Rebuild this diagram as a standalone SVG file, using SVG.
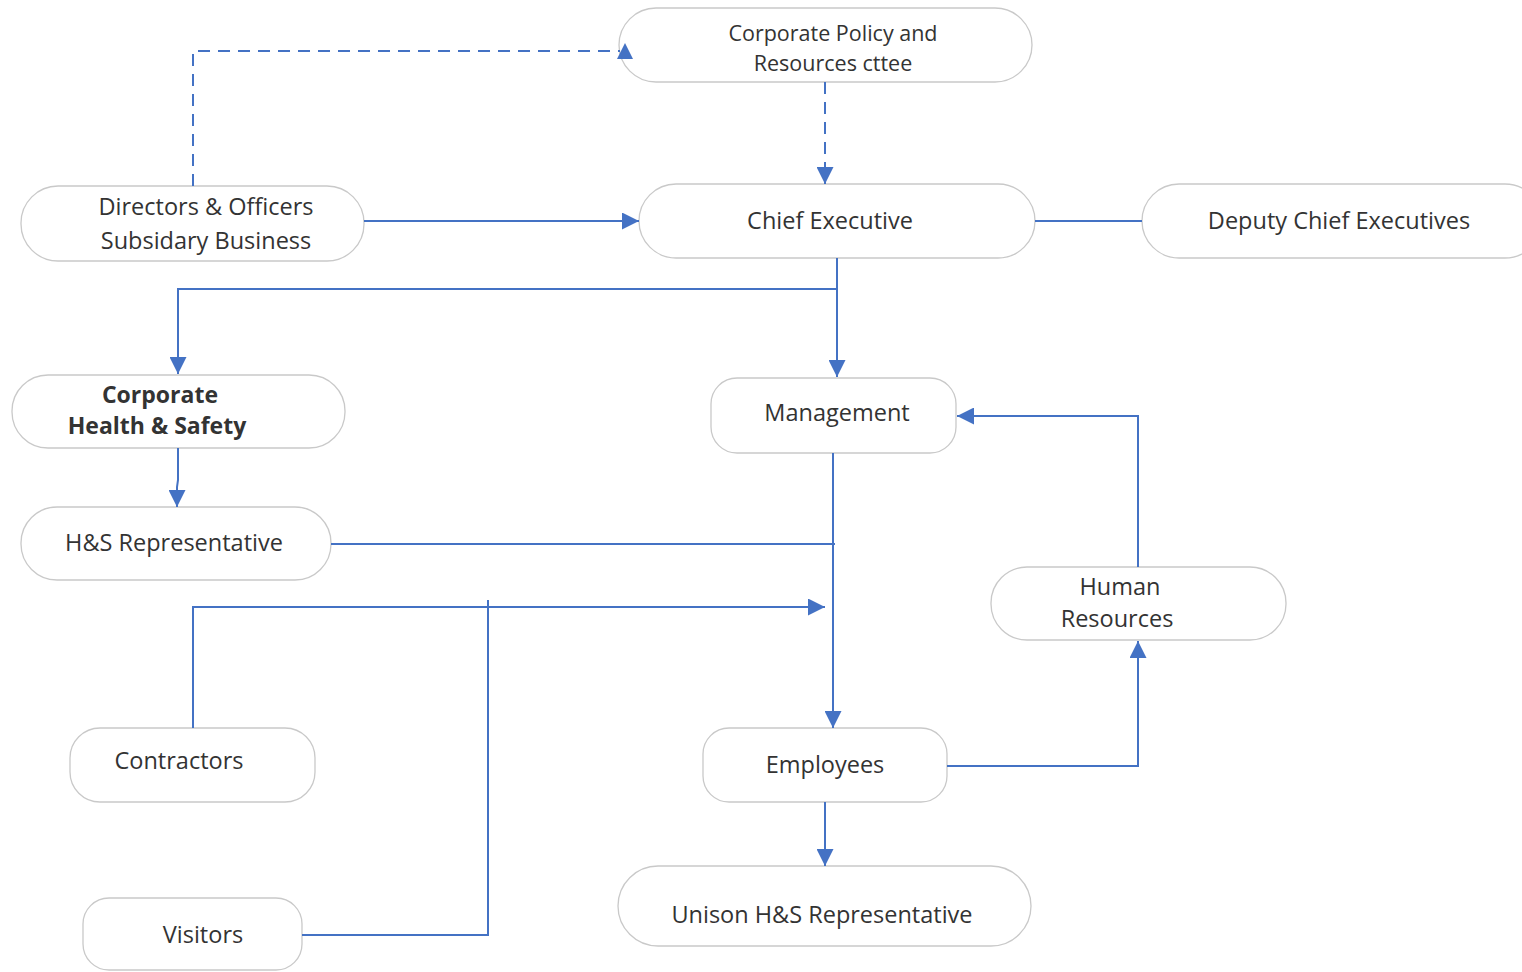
<svg xmlns="http://www.w3.org/2000/svg" width="1522" height="972" viewBox="0 0 1522 972">
<style>
.n{fill:#fff;stroke:#c9c9c9;stroke-width:1.3}
.t{font-family:"Open Sans","Noto Sans","DejaVu Sans",sans-serif;font-size:23.5px;fill:#333;text-anchor:middle}
.s{font-size:21.5px}
.b{font-weight:bold;font-size:23px}
.c{fill:none;stroke:#4472C4;stroke-width:2}
.d{stroke-dasharray:12,8}
.a{fill:#4472C4}
</style>
<defs>
<marker id="arb" viewBox="0 0 10 10" refX="10" refY="5" markerWidth="17" markerHeight="17" markerUnits="userSpaceOnUse" orient="auto"><path d="M0,0L10,5L0,10z" fill="#4472C4"/></marker>
</defs>
<rect width="1522" height="972" fill="#fff"/>
<g id="policy"><rect class="n" x="619" y="8" width="413" height="74" rx="37"/><text class="t s" x="833" y="41">Corporate Policy and</text><text class="t s" x="833" y="71">Resources cttee</text></g>
<g id="chief"><rect class="n" x="639" y="184" width="396" height="74" rx="37"/><text class="t" x="830" y="229">Chief Executive</text></g>
<g id="directors"><rect class="n" x="21" y="186" width="343" height="75" rx="37"/><text class="t" x="206" y="215">Directors &amp; Officers</text><text class="t" x="206" y="249">Subsidary Business</text></g>
<g id="deputy"><rect class="n" x="1142" y="184" width="400" height="74" rx="37"/><text class="t" x="1339" y="229">Deputy Chief Executives</text></g>
<g id="corphs"><rect class="n" x="12" y="375" width="333" height="73" rx="36"/><text class="t b" x="160" y="403">Corporate</text><text class="t b" x="157" y="434">Health &amp; Safety</text></g>
<g id="management"><rect class="n" x="711" y="378" width="245" height="75" rx="26"/><text class="t" x="837" y="421">Management</text></g>
<g id="hsrep"><rect class="n" x="21" y="507" width="310" height="73" rx="36"/><text class="t" x="174" y="551">H&amp;S Representative</text></g>
<g id="hr"><rect class="n" x="991" y="567" width="295" height="73" rx="36"/><text class="t" x="1120" y="595">Human</text><text class="t" x="1117" y="627">Resources</text></g>
<g id="contractors"><rect class="n" x="70" y="728" width="245" height="74" rx="30"/><text class="t" x="179" y="769">Contractors</text></g>
<g id="employees"><rect class="n" x="703" y="728" width="244" height="74" rx="26"/><text class="t" x="825" y="773">Employees</text></g>
<g id="unison"><rect class="n" x="618" y="866" width="413" height="80" rx="40"/><text class="t" x="822" y="923">Unison H&amp;S Representative</text></g>
<g id="visitors"><rect class="n" x="83" y="898" width="219" height="72" rx="26"/><text class="t" x="203" y="943">Visitors</text></g>
<g id="connectors">
<path class="c d" d="M193,186V51H620"/>
<path class="a" d="M617,59L625,43L633,59z"/>
<path class="c d" d="M825,82V184" marker-end="url(#arb)"/>
<path class="c" d="M364,221H639" marker-end="url(#arb)"/>
<path class="c" d="M1035,221H1142"/>
<path class="c" d="M837,258V377" marker-end="url(#arb)"/>
<path class="c" d="M837,289H178V374" marker-end="url(#arb)"/>
<path class="c" d="M178,448V480L177,487V507" marker-end="url(#arb)"/>
<path class="c" d="M833,453V728" marker-end="url(#arb)"/>
<path class="c" d="M331,544H835"/>
<path class="c" d="M193,728V607H825" marker-end="url(#arb)"/>
<path class="c" d="M302,935H488V600"/>
<path class="c" d="M1138,567V416H957" marker-end="url(#arb)"/>
<path class="c" d="M947,766H1138V641" marker-end="url(#arb)"/>
<path class="c" d="M825,802V866" marker-end="url(#arb)"/>
</g>
</svg>
